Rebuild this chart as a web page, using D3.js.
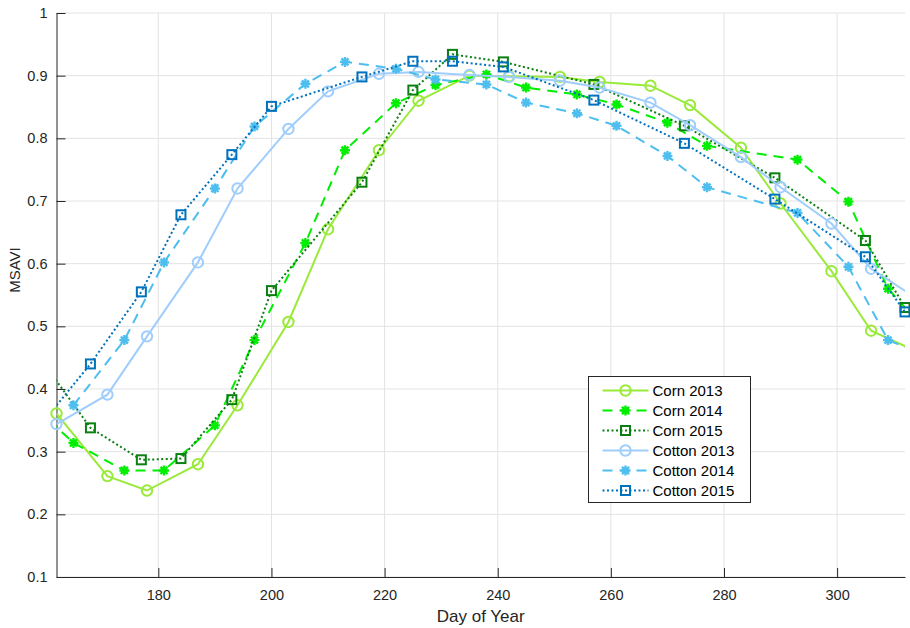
<!DOCTYPE html>
<html>
<head>
<meta charset="utf-8">
<script src="https://cdn.jsdelivr.net/npm/d3@7"></script>
<style>
    body { margin: 0; background: #fff; }
    svg { display: block; font-family: "Liberation Sans", Arial, sans-serif; }
</style>
</head>
<body>
<div id="chart"></div>
<script>
/* ============================================
   MSAVI time series - corn & cotton 2013-2015
   ============================================ */

// Day of year (some points fall just outside the axis limits)
const days2013 = [162, 171, 178, 187, 194, 203, 210, 219, 226, 235, 242, 251, 258, 267, 274, 283, 290, 299, 306, 313.3];
const days2014 = [158.5, 165, 174, 181, 190, 197, 206, 213, 222, 229, 238, 245, 254, 261, 270, 277, 293, 302, 309, 313];
const days2015 = [159.5, 168, 177, 184, 193, 200, 216, 225, 232, 241, 257, 273, 289, 305, 312];

// MSAVI values
const corn2013   = [0.361, 0.261, 0.238, 0.280, 0.374, 0.507, 0.655, 0.781, 0.860, 0.900, 0.899, 0.898, 0.890, 0.884, 0.853, 0.785, 0.696, 0.588, 0.493, 0.463];
const cotton2013 = [0.344, 0.391, 0.484, 0.602, 0.720, 0.815, 0.875, 0.903, 0.906, 0.901, 0.898, 0.892, 0.881, 0.857, 0.821, 0.770, 0.722, 0.664, 0.592, 0.549];
const corn2014   = [0.368, 0.314, 0.270, 0.270, 0.342, 0.478, 0.633, 0.781, 0.856, 0.885, 0.902, 0.881, 0.870, 0.854, 0.825, 0.788, 0.766, 0.699, 0.560, 0.520];
const cotton2014 = [null, 0.374, 0.478, 0.602, 0.720, 0.819, 0.887, 0.922, 0.911, 0.894, 0.886, 0.857, 0.840, 0.820, 0.772, 0.722, 0.681, 0.595, 0.478, 0.463];
const corn2015   = [0.444, 0.338, 0.287, 0.289, 0.383, 0.557, 0.730, 0.877, 0.934, 0.922, 0.886, 0.820, 0.737, 0.637, 0.530];
const cotton2015 = [0.346, 0.440, 0.555, 0.678, 0.774, 0.851, 0.898, 0.923, 0.923, 0.914, 0.861, 0.792, 0.703, 0.611, 0.523];

const xTicks = [180, 200, 220, 240, 260, 280, 300];
const yTicks = [0.1, 0.2, 0.3, 0.4, 0.5, 0.6, 0.7, 0.8, 0.9, 1];

const series = [
    { name: 'Corn 2013',   x: days2013, y: corn2013,   color: '#99ea3a', dash: null,    marker: 'circle' },
    { name: 'Corn 2014',   x: days2014, y: corn2014,   color: '#00ee00', dash: '10,7',  marker: 'star' },
    { name: 'Corn 2015',   x: days2015, y: corn2015,   color: '#0b7f12', dash: '2,2.5', marker: 'square' },
    { name: 'Cotton 2013', x: days2013, y: cotton2013, color: '#9fcdfc', dash: null,    marker: 'circle' },
    { name: 'Cotton 2014', x: days2014, y: cotton2014, color: '#4dbeee', dash: '10,7',  marker: 'star' },
    { name: 'Cotton 2015', x: days2015, y: cotton2015, color: '#0072bd', dash: '2,2.5', marker: 'square' }
];

const W = 910, H = 628;
const margin = { top: 13, right: 5, bottom: 51, left: 56.5 };
const iw = W - margin.left - margin.right;
const ih = H - margin.top - margin.bottom;

const x = d3.scaleLinear().domain([162, 312]).range([0, iw]);
const y = d3.scaleLinear().domain([0.1, 1]).range([ih, 0]);

const svg = d3.select('#chart').append('svg')
    .attr('width', W)
    .attr('height', H);

const g = svg.append('g').attr('transform', `translate(${margin.left},${margin.top})`);

svg.append('defs').append('clipPath').attr('id', 'plot-clip')
    .append('rect').attr('width', iw).attr('height', ih);

// Grid
g.append('g').selectAll('line').data(xTicks).enter().append('line')
    .attr('x1', d => x(d)).attr('x2', d => x(d))
    .attr('y1', 0).attr('y2', ih)
    .attr('stroke', '#e3e3e3').attr('stroke-width', 1);
g.append('g').selectAll('line').data(yTicks).enter().append('line')
    .attr('x1', 0).attr('x2', iw)
    .attr('y1', d => y(d)).attr('y2', d => y(d))
    .attr('stroke', '#e3e3e3').attr('stroke-width', 1);

// Axes (ticks point inward like MATLAB)
const xAxis = g.append('g').attr('transform', `translate(0,${ih})`)
    .call(d3.axisBottom(x).tickValues(xTicks).tickSize(-9).tickPadding(13).tickSizeOuter(0));
const yAxis = g.append('g')
    .call(d3.axisLeft(y).tickValues(yTicks).tickSize(-9).tickPadding(9).tickSizeOuter(0)
        .tickFormat(d => d === 1 ? '1' : d3.format('.1f')(d)));

[xAxis, yAxis].forEach(a => {
    a.select('.domain').attr('stroke', '#262626').attr('stroke-width', 1);
    a.selectAll('.tick line').attr('stroke', '#262626');
    a.selectAll('.tick text').attr('fill', '#262626').attr('font-size', '14.5px')
        .attr('font-family', '"Liberation Sans", Arial, sans-serif');
});

// Axis titles
svg.append('text')
    .attr('x', margin.left + iw / 2).attr('y', 622)
    .attr('text-anchor', 'middle')
    .attr('font-size', '17px').attr('fill', '#262626')
    .text('Day of Year');
svg.append('text')
    .attr('transform', `translate(20,270) rotate(-90)`)
    .attr('text-anchor', 'middle')
    .attr('font-size', '15px').attr('fill', '#262626')
    .text('MSAVI');

// Marker drawing helper
function drawMarker(sel, type, color) {
    if (type === 'circle') {
        sel.append('circle').attr('r', 5.2)
            .attr('fill', 'none').attr('stroke', color).attr('stroke-width', 2);
    } else if (type === 'square') {
        sel.append('rect').attr('x', -4.5).attr('y', -4.5).attr('width', 9).attr('height', 9)
            .attr('fill', 'none').attr('stroke', color).attr('stroke-width', 2);
    } else {
        const r = 5, a = r * 0.707;
        sel.append('path')
            .attr('d', `M${-r},0L${r},0M0,${-r}L0,${r}M${-a},${-a}L${a},${a}M${-a},${a}L${a},${-a}`)
            .attr('fill', 'none').attr('stroke', color).attr('stroke-width', 2.4);
    }
}

// Lines
const plot = g.append('g');
const lineGen = d3.line()
    .defined(d => d.v !== null)
    .x(d => x(d.d))
    .y(d => y(d.v));

series.forEach(s => {
    const pts = s.x.map((d, i) => ({ d: d, v: s.y[i] }));

    plot.append('path')
        .datum(pts)
        .attr('clip-path', 'url(#plot-clip)')
        .attr('fill', 'none')
        .attr('stroke', s.color)
        .attr('stroke-width', 2)
        .attr('stroke-dasharray', s.dash)
        .attr('d', lineGen);

    // markers only where the point is inside the axis limits
    const visible = pts.filter(p => p.v !== null && p.d >= 162 && p.d <= 312);
    visible.forEach(p => {
        const m = plot.append('g').attr('transform', `translate(${x(p.d)},${y(p.v)})`);
        drawMarker(m, s.marker, s.color);
    });
});

// Legend
const legend = svg.append('g').attr('transform', 'translate(588.5,376.5)');
legend.append('rect')
    .attr('width', 162).attr('height', 126)
    .attr('fill', '#fff').attr('stroke', '#262626').attr('stroke-width', 1);

series.forEach((s, i) => {
    const row = legend.append('g').attr('transform', `translate(0,${14 + i * 20})`);
    row.append('line')
        .attr('x1', 14).attr('x2', 60)
        .attr('stroke', s.color).attr('stroke-width', 2)
        .attr('stroke-dasharray', s.dash);
    drawMarker(row.append('g').attr('transform', 'translate(37,0)'), s.marker, s.color);
    row.append('text')
        .attr('x', 64).attr('y', 5)
        .attr('font-size', '15px').attr('fill', '#000')
        .text(s.name);
});
</script>
</body>
</html>
